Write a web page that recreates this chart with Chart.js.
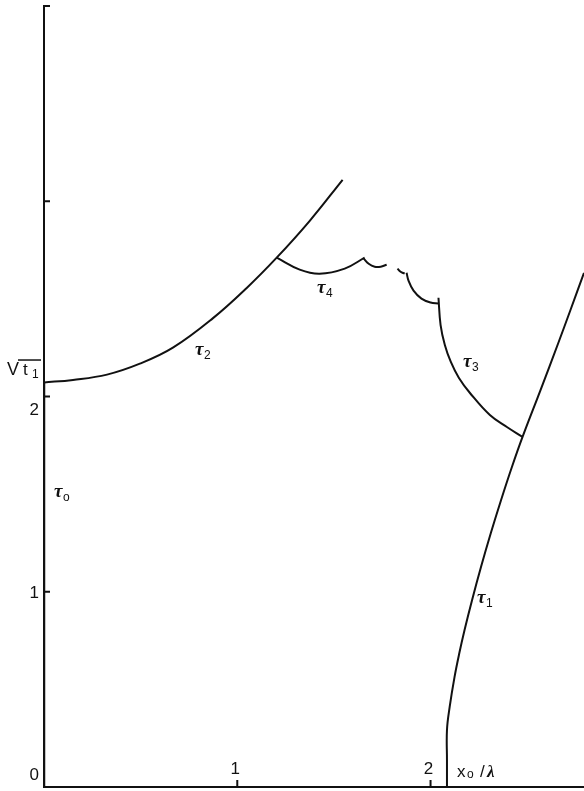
<!DOCTYPE html>
<html>
<head>
<meta charset="utf-8">
<script src="https://cdn.jsdelivr.net/npm/chart.js@4/dist/chart.umd.min.js"></script>
<style>
  body { margin: 0; background: #fff; }
  #wrap { width: 584px; height: 791px; position: relative; }
</style>
</head>
<body>
<div id="wrap"><canvas id="chart"></canvas></div>
<script>
// curve data (x0/lambda, sqrt t1)
const tau0X = [0, 0];
const tau0Y = [0, 2.07];

const tau2X = [0, 0.150, 0.326, 0.496, 0.667, 0.873, 1.049, 1.204, 1.375, 1.545];
const tau2Y = [2.072, 2.085, 2.112, 2.168, 2.250, 2.400, 2.556, 2.711, 2.900, 3.110];

const tau4X = [1.204, 1.323, 1.426, 1.556, 1.659];
const tau4Y = [2.711, 2.650, 2.629, 2.655, 2.711];

const cusp1X = [1.654, 1.680, 1.711, 1.742, 1.773];
const cusp1Y = [2.706, 2.680, 2.665, 2.665, 2.675];

const cusp2X = [1.829, 1.845, 1.866];
const cusp2Y = [2.655, 2.639, 2.629];

const cusp3X = [1.876, 1.886, 1.912, 1.953, 2.000, 2.041];
const cusp3Y = [2.634, 2.593, 2.542, 2.501, 2.481, 2.476];

const tau3X = [2.041, 2.052, 2.074, 2.105, 2.147, 2.204, 2.307, 2.395, 2.476];
const tau3Y = [2.506, 2.366, 2.264, 2.177, 2.095, 2.018, 1.905, 1.844, 1.793];

const tau1X = [2.085, 2.085, 2.085, 2.099, 2.124, 2.149, 2.176, 2.215, 2.261, 2.312, 2.365, 2.421, 2.476, 2.569, 2.661, 2.724, 2.794];
const tau1Y = [0, 0.138, 0.292, 0.410, 0.563, 0.686, 0.804, 0.958, 1.127, 1.301, 1.470, 1.639, 1.793, 2.033, 2.274, 2.443, 2.633];

const xTicks = [1, 2];
const xTickLabels = ['1', '2'];
const yTicks = [0, 1, 2, 3, 4];
const yTickLabels = ['0', '1', '2', '', ''];

function pts(xs, ys) {
    return xs.map((v, i) => ({ x: v, y: ys[i] }));
}

function curve(xs, ys, width, tension) {
    return {
        data: pts(xs, ys),
        showLine: true,
        borderColor: '#111',
        borderWidth: width,
        pointRadius: 0,
        tension: tension,
        fill: false
    };
}

// ticks pointing inward, labels and curve names
const marks = {
    id: 'marks',
    afterDatasetsDraw(chart) {
        const ctx = chart.ctx;
        const x = chart.scales.x, y = chart.scales.y;
        const left = chart.chartArea.left, bottom = chart.chartArea.bottom;
        ctx.save();
        ctx.strokeStyle = '#111';
        ctx.lineWidth = 2;
        yTicks.forEach(v => {
            const py = y.getPixelForValue(v);
            ctx.beginPath(); ctx.moveTo(left, py); ctx.lineTo(left + 6, py); ctx.stroke();
        });
        xTicks.forEach(v => {
            const px = x.getPixelForValue(v);
            ctx.beginPath(); ctx.moveTo(px, bottom); ctx.lineTo(px, bottom - 7); ctx.stroke();
        });

        ctx.fillStyle = '#111';
        ctx.font = '17px "Liberation Sans"';
        ctx.textAlign = 'center';
        ctx.textBaseline = 'alphabetic';
        xTicks.forEach((v, i) => {
            ctx.fillText(xTickLabels[i], x.getPixelForValue(v) - 2, bottom - 13);
        });
        ctx.textAlign = 'right';
        const yShift = [-7, 6, 18, 0, 0];
        yTicks.forEach((v, i) => {
            if (!yTickLabels[i]) return;
            ctx.fillText(yTickLabels[i], left - 5, y.getPixelForValue(v) + yShift[i]);
        });

        // sqrt t1 label
        ctx.textAlign = 'left';
        const sy = y.getPixelForValue(2.11);
        ctx.font = '18px "Liberation Sans"';
        ctx.fillText('V', 7, sy);
        ctx.font = '17px "Liberation Sans"';
        ctx.fillText('t', 23, sy);
        ctx.font = '12px "Liberation Sans"';
        ctx.fillText('1', 32, sy + 3);
        ctx.lineWidth = 1.5;
        ctx.beginPath(); ctx.moveTo(18, sy - 15); ctx.lineTo(41, sy - 15); ctx.stroke();

        // x0 / lambda label
        const lx = x.getPixelForValue(2.137);
        ctx.font = '17px "Liberation Sans"';
        ctx.fillText('x', lx, bottom - 10);
        ctx.font = '12px "Liberation Sans"';
        ctx.fillText('o', lx + 10, bottom - 9);
        ctx.font = '17px "Liberation Sans"';
        ctx.fillText('/', lx + 23, bottom - 10);
        ctx.font = 'bold italic 17px "Liberation Serif"';
        ctx.fillText('λ', lx + 30, bottom - 10);

        const tauLabels = [
            { sub: 'o', x: 0.052, y: 1.485 },
            { sub: '2', x: 0.781, y: 2.213 },
            { sub: '4', x: 1.412, y: 2.531 },
            { sub: '3', x: 2.168, y: 2.151 },
            { sub: '1', x: 2.240, y: 0.942 }
        ];
        tauLabels.forEach(l => {
            const px = x.getPixelForValue(l.x), py = y.getPixelForValue(l.y);
            ctx.font = 'bold italic 19px "Liberation Serif"';
            ctx.fillText('τ', px, py);
            ctx.font = '12px "Liberation Sans"';
            ctx.fillText(l.sub, px + 9, py + 4);
        });
        ctx.restore();
    }
};

new Chart(document.getElementById('chart').getContext('2d'), {
    type: 'scatter',
    data: {
        datasets: [
            curve(tau0X, tau0Y, 2.5, 0),
            curve(tau2X, tau2Y, 2, 0.4),
            curve(tau4X, tau4Y, 2, 0.4),
            curve(cusp1X, cusp1Y, 2, 0.4),
            curve(cusp2X, cusp2Y, 2, 0.4),
            curve(cusp3X, cusp3Y, 2, 0.4),
            curve(tau3X, tau3Y, 2, 0.4),
            curve(tau1X, tau1Y, 2, 0.4)
        ]
    },
    options: {
        responsive: true,
        maintainAspectRatio: false,
        animation: false,
        layout: { padding: { top: 6, right: 0, left: 0, bottom: 0 } },
        plugins: { legend: { display: false }, tooltip: { enabled: false } },
        scales: {
            x: {
                type: 'linear', min: 0, max: 2.794,
                ticks: { display: false },
                grid: { display: false },
                border: { color: '#111', width: 2 },
                afterFit: s => { s.height = 4; }
            },
            y: {
                type: 'linear', min: 0, max: 4,
                ticks: { display: false },
                grid: { display: false },
                border: { color: '#111', width: 2 },
                afterFit: s => { s.width = 44; }
            }
        }
    },
    plugins: [marks]
});
</script>
</body>
</html>
